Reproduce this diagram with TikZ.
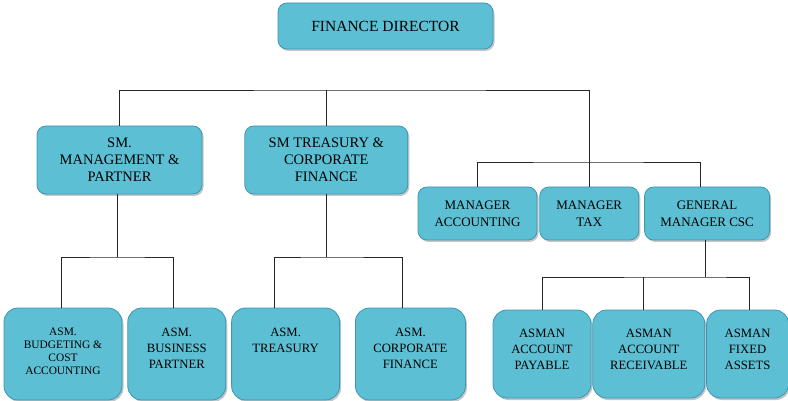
\documentclass[tikz,border=0pt]{standalone}
\usepackage{fontspec}
\setmainfont{Liberation Serif}
\usetikzlibrary{positioning,shadows}
\definecolor{boxfill}{RGB}{92,191,211}
\definecolor{boxline}{RGB}{62,150,180}

\begin{document}
\begin{tikzpicture}[x=1pt,y=-1pt,
box/.style={draw=boxline,fill=boxfill,rounded corners=9pt,line width=0.8pt,inner sep=0pt,align=center,
    drop shadow={shadow xshift=1.5pt,shadow yshift=-2pt,opacity=0.45}},
headbox/.style={box,minimum width=215pt,minimum height=46pt,font=\fontsize{15.5}{18}\selectfont},
smbox/.style={box,minimum height=68pt,font=\fontsize{14.5}{17}\selectfont},
mgrbox/.style={box,minimum height=53pt,font=\fontsize{13}{17}\selectfont},
asmbox/.style={box,rounded corners=14pt,minimum height=92pt},
toptext/.style={anchor=north,yshift=-17pt,align=center,font=\fontsize{12.7}{16}\selectfont},
link/.style={draw=black!85,line width=0.9pt}]
\useasboundingbox (0,0) rectangle (788,401);

% top
\node (fd) [headbox] at (385.5,26) {FINANCE DIRECTOR};

% senior managers
\node (smm) [smbox,minimum width=165pt] at (119.5,160) {SM.\\MANAGEMENT \&\\PARTNER};
\node (smt) [smbox,minimum width=163pt,right=42pt of smm] {SM TREASURY \&\\CORPORATE\\FINANCE};

% managers
\node (macc) [mgrbox,minimum width=119pt] at (477.5,213.5) {MANAGER\\ACCOUNTING};
\node (mtax) [mgrbox,minimum width=99pt,right=2pt of macc] {MANAGER\\TAX};
\node (gmcsc) [mgrbox,minimum width=125pt,right=5pt of mtax] {GENERAL\\MANAGER CSC};

% assistant managers
\node (abud) [asmbox,minimum width=118pt,
    label={[toptext,font=\fontsize{11.4}{13}\selectfont]north:{ASM.\\BUDGETING \&\\COST\\ACCOUNTING}}] at (63,354) {};
\node (abus) [asmbox,minimum width=98pt,right=5pt of abud,
    label={[toptext]north:{ASM.\\BUSINESS\\PARTNER}}] {};
\node (atre) [asmbox,minimum width=108pt,right=5pt of abus,
    label={[toptext]north:{ASM.\\TREASURY}}] {};
\node (acorp) [asmbox,minimum width=110pt,right=15pt of atre,
    label={[toptext]north:{ASM.\\CORPORATE\\FINANCE}}] {};
\node (apay) [asmbox,minimum width=98pt,minimum height=88pt,
    label={[toptext,yshift=1pt]north:{ASMAN\\ACCOUNT\\PAYABLE}}] at (542,354) {};
\node (arec) [asmbox,minimum width=112pt,minimum height=88pt,right=1pt of apay,
    label={[toptext,yshift=1pt]north:{ASMAN\\ACCOUNT\\RECEIVABLE}}] {};
\node (afix) [asmbox,minimum width=82pt,minimum height=88pt,right=1pt of arec,
    label={[toptext,yshift=1pt]north:{ASMAN\\FIXED\\ASSETS}}] {};

% connectors
\coordinate (topbus) at (385,90);
\draw [link] (smm.north) |- (topbus) -| (mtax.north);
\draw [link] (smt.north) -- (smt.north |- topbus);

\coordinate (mgrbus) at (588,162);
\draw [link] (macc.north) |- (mgrbus) -| ([xshift=-7pt]gmcsc.north);

\coordinate (smmbus) at (117,257);
\draw [link] ([xshift=-2pt]smm.south) -- ([xshift=-2pt]smm.south |- smmbus);
\draw [link] ([xshift=-2pt]abud.north) |- (smmbus) -| ([xshift=-3pt]abus.north);

\coordinate (smtbus) at (326,257);
\draw [link] (smt.south) -- (smt.south |- smtbus);
\draw [link] ([xshift=-11pt]atre.north) |- (smtbus) -| ([xshift=-8pt]acorp.north);

\coordinate (csbus) at (704,277);
\draw [link] ([xshift=-1.5pt]gmcsc.south) -- ([xshift=-1.5pt]gmcsc.south |- csbus);
\draw [link] (apay.north) |- (csbus) -| ([xshift=2pt]afix.north);
\draw [link] ([xshift=-5pt]arec.north) -- ([xshift=-5pt]arec.north |- csbus);
\end{tikzpicture}
\end{document}
